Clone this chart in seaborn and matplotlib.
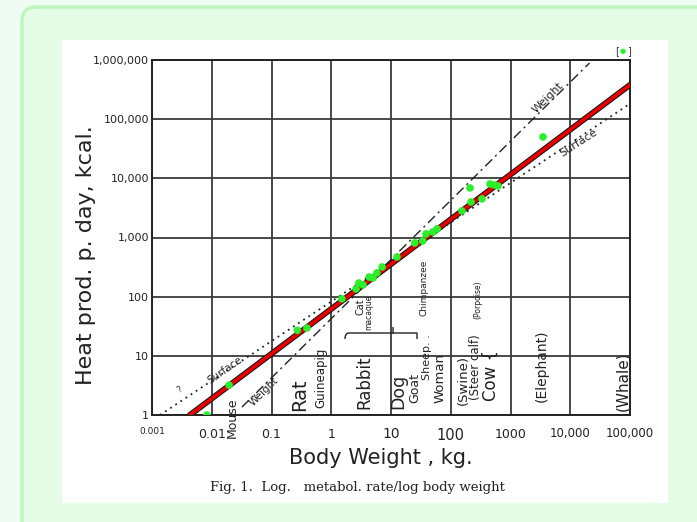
import matplotlib
matplotlib.use("Agg")
import matplotlib.pyplot as plt
import matplotlib.transforms as mtransforms
from matplotlib.patches import FancyBboxPatch, Rectangle
from matplotlib.path import Path
from matplotlib.patches import PathPatch
import seaborn as sns

# ------------------------------
# Data
# ------------------------------
body_weight = [0.0083, 0.0195, 0.27, 0.39, 1.5, 2.6, 2.9, 3.4, 4.3, 5.0, 5.8, 7.1,
               12.6, 25, 34, 38.5, 50, 59, 154, 210, 218, 333, 454, 530, 618, 3500]
heat_prod = [1.0, 3.2, 27, 29.5, 92, 135, 170, 158, 215, 207, 252, 318,
             469, 809, 875, 1150, 1240, 1400, 2810, 6880, 3990, 4490, 8040, 7730, 7440, 50100]

# fitted lines (end points)
kleiber_w = [0.0043, 100000]
kleiber_h = [1.0, 380000]
weight_w = [0.032, 21000]
weight_h = [1.36, 890000]
surface_w = [0.00136, 90000]
surface_h = [1.0, 170000]

x_ticks = [0.001, 0.01, 0.1, 1, 10, 100, 1000, 10000, 100000]
x_labels = ["0.001", "0.01", "0.1", "1", "10", "100", "1000", "10,000", "100,000"]
x_sizes = [6.5, 9, 9, 9, 10, 10.5, 9, 8.5, 8.5]
y_ticks = [1, 10, 100, 1000, 10000, 100000, 1000000]
y_labels = ["1", "10", "100", "1,000", "10,000", "100,000", "1,000,000"]

W, H = 697, 522

sns.set_style("white")
plt.rcParams["font.family"] = ["DejaVu Sans"]

fig = plt.figure(figsize=(W / 100, H / 100), dpi=100, facecolor="#effcf3")
pix = mtransforms.IdentityTransform()

# framed background and white "scan" area
box = FancyBboxPatch((22, H - 560), 740, 553, boxstyle="round,pad=0,rounding_size=14",
                     transform=pix, fc="#e5fde5", ec="#bff6bf", lw=2.5, zorder=-3)
fig.patches.append(box)
scan = Rectangle((62, H - 503), 606, 463, transform=pix, fc="white", ec="none", zorder=-2)
fig.patches.append(scan)


def fxy(px, py):
    return px / W, 1 - py / H


left, top = fxy(152, 60)
_, bottom = fxy(152, 415)
ax = fig.add_axes([left, bottom, (630 - 152) / W, top - bottom])
ax.set_facecolor("none")

# lines
sns.lineplot(x=surface_w, y=surface_h, ax=ax, color="#222", lw=1.3,
             linestyle=(0, (1, 2.4)), zorder=2)
sns.lineplot(x=weight_w, y=weight_h, ax=ax, color="#222", lw=1.0,
             linestyle=(0, (7, 3, 1.5, 3)), zorder=2)
sns.lineplot(x=kleiber_w, y=kleiber_h, ax=ax, color="#111", lw=4.2, zorder=3)
sns.lineplot(x=kleiber_w, y=kleiber_h, ax=ax, color="#e40000", lw=2.8, zorder=4)

# measured animals
sns.scatterplot(x=body_weight, y=heat_prod, ax=ax, color="#2bef2b", s=30,
                edgecolor="none", zorder=6)

ax.set_xscale("log")
ax.set_yscale("log")
ax.set_xlim(1e-3, 1e5)
ax.set_ylim(1, 1e6)
ax.minorticks_off()
ax.set_xticks(x_ticks)
ax.set_xticklabels(x_labels)
ax.set_yticks(y_ticks)
ax.set_yticklabels(y_labels, fontsize=8)
for lab, fs in zip(ax.get_xticklabels(), x_sizes):
    lab.set_fontsize(fs)
ax.tick_params(axis="x", length=0, pad=9, colors="#222")
ax.tick_params(axis="y", length=0, pad=2, colors="#222")
ax.grid(True, which="major", color="#3a3a3a", lw=1.3)
for s in ax.spines.values():
    s.set_color("#222")
    s.set_linewidth(1.4)
ax.set_xlabel("")
ax.set_ylabel("")

# axis titles and caption
fig.text(*fxy(86, 255), "Heat prod. p. day, kcal.", rotation=90, ha="center", va="center",
         fontsize=16, color="#222")
fig.text(*fxy(381, 458), "Body Weight , kg.", ha="center", va="center", fontsize=15, color="#222")
fig.text(*fxy(357, 488), "Fig. 1.  Log.   metabol. rate/log body weight", ha="center", va="center",
         fontsize=9.5, family=["DejaVu Serif"], color="#222")

# species labels (vertical, hand lettered in the original)
labels = [
    ("Mouse", 232, 418, 9),
    ("Rat", 300, 395, 14),
    ("Guineapig", 321, 378, 8.5),
    ("Rabbit", 364, 382, 12),
    ("Cat", 361, 307, 7),
    ("macaque", 369, 312, 5.5),
    ("Dog", 398, 391, 12.5),
    ("Goat", 415, 388, 9),
    ("Sheep. .", 427, 357, 8),
    ("Woman", 440, 378, 9.5),
    ("Chimpanzee", 424, 288, 6.5),
    ("(Swine)", 463, 380, 9.5),
    ("(Steer calf)", 475, 367, 8.5),
    ("(Porpoise)", 478, 300, 5.5),
    ("Cow {", 491, 375, 12),
    ("(Elephant)", 542, 366, 10),
    ("(Whale)", 623, 381, 11),
]
for txt, px, py, fs in labels:
    fig.text(*fxy(px, py), txt, rotation=90, ha="center", va="center", fontsize=fs, color="#222")

line_notes = [
    ("Weight", 264, 392, 45, 7.5),
    ("Surface", 225, 370, 35, 7.5),
    ("?", 180, 390, 35, 6),
    ("Weight", 548, 98, 45, 8),
    ("Surface", 579, 143, 33, 8),
]
for txt, px, py, rot, fs in line_notes:
    fig.text(*fxy(px, py), txt, rotation=rot, ha="center", va="center", fontsize=fs,
             color="#222", rotation_mode="anchor")

# curly brace over cat / macaque
x0, x1, xm, yb, hb = 345, 417, 393, H - 333, 6
verts = [(x0, yb - hb), (x0, yb), (x0 + 4, yb), (x0 + 10, yb),
         (xm - 6, yb), (xm, yb), (xm, yb + hb),
         (xm, yb), (xm + 6, yb), (x1 - 10, yb),
         (x1 - 4, yb), (x1, yb), (x1, yb - hb)]
codes = [Path.MOVETO, Path.CURVE3, Path.CURVE3, Path.LINETO,
         Path.CURVE3, Path.CURVE3, Path.LINETO,
         Path.MOVETO, Path.CURVE3, Path.LINETO,
         Path.CURVE3, Path.CURVE3, Path.LINETO]
fig.patches.append(PathPatch(Path(verts, codes), transform=pix, fc="none", ec="#222", lw=1.0))

# marker key at top right: [ • ]
fig.text(*fxy(617, 51), "[", ha="center", va="center", fontsize=7, color="#333")
fig.text(*fxy(623, 51), "\u25cf", ha="center", va="center", fontsize=5, color="#2bef2b")
fig.text(*fxy(629, 51), "]", ha="center", va="center", fontsize=7, color="#333")

fig.savefig("out.png", dpi=100, facecolor=fig.get_facecolor())
